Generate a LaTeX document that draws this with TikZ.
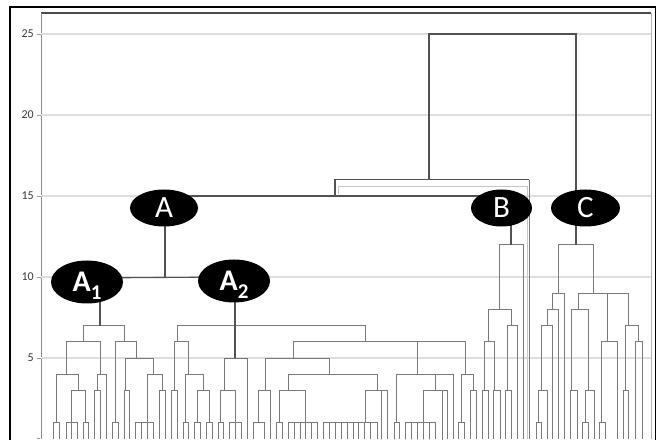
\documentclass[tikz,border=0pt]{standalone}
\usepackage{fontspec}
\setmainfont{Carlito}
\usetikzlibrary{shapes.geometric,backgrounds}

% one merge of a dendrogram: left child (x, height), right child (x, height), merge height
\newcommand{\dmerge}[5]{\draw[dline] (#1,{16.2*#2}) -- (#1,{16.2*#5}) -- (#3,{16.2*#5}) -- (#3,{16.2*#4});}
% a single leaf rising from the axis to a given height
\newcommand{\dleaf}[2]{\draw[dline] (#1,0) -- (#1,{16.2*#2});}

\begin{document}
\begin{tikzpicture}[x=1pt,y=1pt,
  dline/.style={draw=black!52, line width=0.8pt},
  trunk/.style={draw=black!68, line width=1.1pt},
  gridline/.style={draw=black!13, line width=1.3pt},
  tag/.style={ellipse, fill=black, text=white, inner sep=0pt},
  ticklab/.style={text=black!78, font=\fontsize{12}{12}\selectfont, anchor=east, inner sep=0pt}
]
\useasboundingbox (0,0) rectangle (658,439);

% cluster labels
\node[tag, minimum width=68pt, minimum height=37pt, font=\fontsize{31}{31}\selectfont] (A) at (164,231) {A};
\node[tag, minimum width=61pt, minimum height=37pt, font=\fontsize{31}{31}\selectfont] (B) at (501.5,231) {B};
\node[tag, minimum width=69pt, minimum height=37pt, font=\fontsize{31}{31}\selectfont] (C) at (585.5,231) {C};
\node[tag, minimum width=72pt, minimum height=43pt, font=\fontsize{30}{30}\selectfont\bfseries] (A1) at (87,157)
  {A\raisebox{-8pt}[0pt][0pt]{\fontsize{21}{21}\selectfont 1}};
\node[tag, minimum width=72pt, minimum height=43pt, font=\fontsize{30}{30}\selectfont\bfseries] (A2) at (234,158)
  {A\raisebox{-8pt}[0pt][0pt]{\fontsize{21}{21}\selectfont 2}};

% axis labels
\foreach \v in {5,10,15,20,25}
  \node[ticklab] (lab\v) at (34,{16.2*\v}) {\v};

\begin{pgfonlayer}{background}
  % frames
  \draw[black, line width=1.6pt] (10,-5) rectangle (655.5,432);
  \draw[black!70, line width=1.4pt] (41,426) -- (651,426);
  \draw[black!45, line width=0.7pt] (41,0) -- (41,426);
  \draw[black!30, line width=0.7pt] (651,0) -- (651,426);

  % horizontal grid with ticks
  \foreach \v in {5,10,15,20,25} {
    \draw[gridline] (41,{16.2*\v}) -- (651,{16.2*\v});
    \draw[black!40, line width=0.6pt] (37,{16.2*\v}) -- (41,{16.2*\v});
  }
  \draw[black!40, line width=0.6pt] (37,1) -- (40,1);

  % ---- cluster A1 ----
  \dmerge{53}{0}{59}{0}{1}
  \dmerge{66}{0}{77}{0}{1} \dleaf{71}{1}
  \dmerge{83}{0}{88}{0}{1}
  \dmerge{71}{1}{85}{1}{3}
  \dmerge{56}{1}{78}{3}{4}
  \dmerge{94}{0}{100}{0}{3}
  \dmerge{97}{3}{106}{0}{4}
  \dmerge{66}{4}{100}{4}{6}
  \dmerge{112}{0}{118}{0}{1}
  \dmerge{124}{0}{129}{0}{3}
  \dmerge{135}{0}{153}{0}{1} \dleaf{141}{1} \dleaf{147}{1}
  \dmerge{159}{0}{165}{0}{3}
  \dmerge{147}{1}{162}{3}{4}
  \dmerge{125}{3}{153}{4}{5}
  \dmerge{115}{1}{136}{5}{6}
  \dmerge{83}{6}{124}{6}{7}

  % ---- cluster A2 ----
  \dmerge{171}{0}{177}{0}{3}
  \dmerge{183}{0}{188}{0}{1}
  \dmerge{194}{0}{200}{0}{1}
  \dmerge{206}{0}{212}{0}{1}
  \dmerge{197}{1}{209}{1}{3}
  \dmerge{185}{1}{203}{3}{4}
  \dmerge{174}{3}{188}{4}{6}
  \dmerge{218}{0}{223}{0}{1}
  \dmerge{229}{0}{241}{0}{1} \dleaf{235}{1}
  \dmerge{220}{1}{235}{1}{3}
  \dmerge{224}{3}{247}{0}{5}
  \dmerge{253}{0}{264}{0}{1}
  \dmerge{258}{1}{270}{0}{3}
  \dmerge{276}{0}{282}{0}{1}
  \dmerge{288}{0}{317}{0}{1}
  \foreach \x in {294,300,305,311} \dleaf{\x}{1}
  \dmerge{279}{1}{305}{1}{3}
  \dmerge{323}{0}{377}{0}{1}
  \foreach \x in {329,335,341,347,353,358,364,370} \dleaf{\x}{1}
  \dmerge{365}{1}{387}{0}{3} \dleaf{381}{3}
  \dmerge{288}{3}{377}{3}{4}
  \dmerge{265}{3}{329}{4}{5}
  \dmerge{394}{0}{399}{0}{1}
  \dmerge{405}{0}{435}{0}{1}
  \foreach \x in {411,417,423,429} \dleaf{\x}{1}
  \dmerge{423}{1}{447}{0}{3} \dleaf{442}{3}
  \dmerge{396}{1}{453}{0}{4}
  \draw[dline] (435,{16.2*3}) -- (435,{16.2*4});
  \dmerge{458}{0}{464}{0}{1}
  \dmerge{470}{0}{476}{0}{3}
  \dmerge{461}{1}{473}{3}{4}
  \dmerge{293}{5}{465}{4}{6}
  \draw[dline] (417,{16.2*4}) -- (417,{16.2*6});
  \dmerge{177}{6}{365}{6}{7}

  % ---- cluster B ----
  \dmerge{482}{0}{488}{0}{3}
  \dmerge{493}{0}{500}{0}{3}
  \dmerge{484}{3}{494}{3}{6}
  \dmerge{505}{0}{511}{0}{3}
  \dmerge{507}{3}{517}{0}{7}
  \dmerge{488}{6}{511}{7}{8}
  \dmerge{499}{8}{523}{0}{12}

  % ---- cluster C ----
  \dmerge{536}{0}{541}{0}{1}
  \dmerge{538}{1}{547}{0}{3}
  \dmerge{541}{3}{552}{0}{7}
  \dmerge{547}{7}{558}{0}{8}
  \dmerge{552}{8}{564}{0}{9}
  \dmerge{570}{0}{577}{0}{3}
  \dmerge{582}{0}{588}{0}{1}
  \dmerge{585}{1}{594}{0}{3}
  \dmerge{571}{3}{588}{3}{8}
  \dmerge{599}{0}{605}{0}{1}
  \dmerge{601}{1}{617}{0}{6}
  \dmerge{623}{0}{628}{0}{3}
  \dmerge{635}{0}{642}{0}{6}
  \dmerge{625}{3}{638}{6}{7}
  \dmerge{578}{8}{628}{7}{9}
  \draw[dline] (607,{16.2*6}) -- (607,{16.2*9});
  \dmerge{558}{9}{593}{9}{12}

  % ---- upper joins, tied to the labels ----
  \coordinate (a1root) at (100,{16.2*7});
  \coordinate (a2root) at (235,{16.2*5});
  \coordinate (jA) at (165,162);
  \coordinate (broot) at (511,{16.2*12});
  \coordinate (jAB) at (511,243);
  \coordinate (j16l) at (335,243);
  \coordinate (j16r) at (529,{16.2*16});
  \coordinate (leaf16) at (529,0);
  \coordinate (croot) at (576,{16.2*12});
  \coordinate (topl) at (429,{16.2*16});

  \draw[trunk] (a1root) -- (a1root |- A1.center);
  \draw[trunk] (a2root) -- (a2root |- A2.center);
  \draw[trunk] ([yshift=4pt]A1.center) -- ([yshift=4pt]A2.center);
  \draw[trunk] (A.center -| jA) -- (jA);
  \draw[trunk] (A.center |- jAB) -- (jAB) -- (broot);
  \draw[trunk] (j16l) |- (j16r);
  \draw[dline] (j16r) -- (leaf16);
  % faint inner edge along the join at 16
  \draw[black!22, line width=0.7pt] (338,245) |- (527,{16.2*15.6}) -- (527,0);
  \draw[trunk] (topl) |- (croot |- 0,{16.2*25}) -- (croot);
\end{pgfonlayer}
\end{tikzpicture}
\end{document}
